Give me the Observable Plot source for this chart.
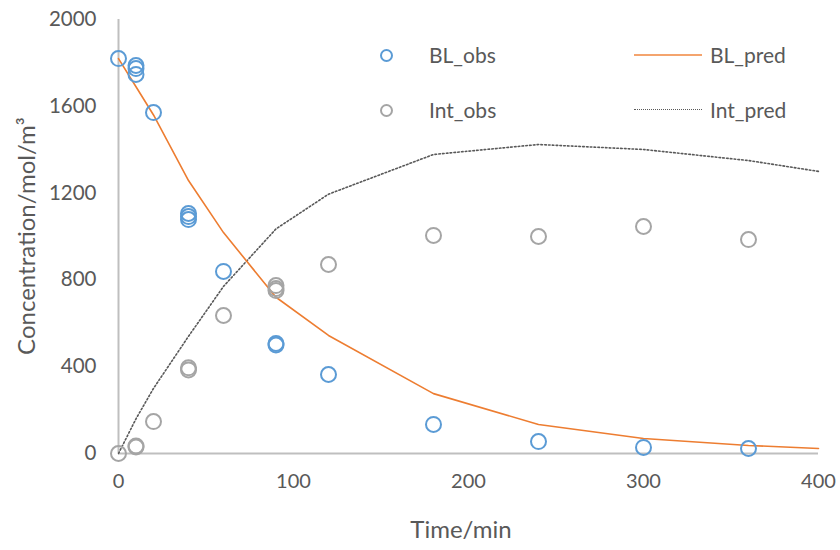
<!DOCTYPE html>
<html>
<head>
<meta charset="utf-8">
<script src="https://cdn.jsdelivr.net/npm/d3@7"></script>
<script src="https://cdn.jsdelivr.net/npm/@observablehq/plot@0.6"></script>
<style>
  html, body { margin: 0; padding: 0; background: #fff; }
  #wrap { position: relative; width: 840px; height: 550px; font-family: Lato, "Open Sans", sans-serif; }
  .leg { position: absolute; font-size: 21px; color: #595959; line-height: 1; white-space: nowrap; }
  .title { position: absolute; color: #595959; line-height: 1; white-space: nowrap; }
</style>
</head>
<body>
<div id="wrap"></div>
<script>
// Observed data
const blObsTime = [0, 10, 10, 10, 20, 40, 40, 40, 60, 90, 90, 120, 180, 240, 300, 360];
const blObsConc = [1820, 1788, 1774, 1747, 1571, 1106, 1092, 1078, 839, 507, 500, 364, 134, 55, 28, 23];
const intObsTime = [0, 10, 10, 20, 40, 40, 60, 90, 90, 90, 120, 180, 240, 300, 360];
const intObsConc = [0, 30, 35, 147, 385, 395, 636, 774, 760, 751, 871, 1005, 1000, 1046, 986];
// Predicted curves
const predTime = [0, 10, 20, 40, 60, 90, 120, 180, 240, 300, 360, 400];
const blPred = [1820, 1690, 1560, 1258, 1018, 720, 544, 276, 134, 69, 37, 23];
const intPred = [0, 160, 300, 540, 770, 1035, 1195, 1378, 1424, 1401, 1350, 1300];
// Axis ticks and texts
const xTicks = [0, 100, 200, 300, 400];
const yTicks = [0, 400, 800, 1200, 1600, 2000];
const seriesNames = ["BL_obs", "BL_pred", "Int_obs", "Int_pred"];
const xTitle = "Time/min";
const yTitle = "Concentration/mol/m³";

const blObs = blObsTime.map((t, i) => ({t, c: blObsConc[i]}));
const intObs = intObsTime.map((t, i) => ({t, c: intObsConc[i]}));
const blLine = predTime.map((t, i) => ({t, c: blPred[i]}));
const intLine = predTime.map((t, i) => ({t, c: intPred[i]}));

const chart = Plot.plot({
  width: 840,
  height: 550,
  marginLeft: 118,
  marginRight: 22,
  marginTop: 19,
  marginBottom: 97,
  style: {fontFamily: "Lato, 'Open Sans', sans-serif", fontSize: "20px", color: "#595959", background: "#fff"},
  x: {domain: [0, 400]},
  y: {domain: [0, 2000]},
  marks: [
    Plot.ruleX([0], {stroke: "#bfbfbf", strokeWidth: 2}),
    Plot.ruleY([0], {stroke: "#bfbfbf", strokeWidth: 2}),
    Plot.axisX({ticks: xTicks, tickSize: 0, tickPadding: 20, fontSize: 20, tickFormat: d => String(d), label: null}),
    Plot.axisY({ticks: yTicks, tickSize: 0, tickPadding: 22, fontSize: 20.5, tickFormat: d => String(d), label: null}),
    Plot.line(intLine, {x: "t", y: "c", stroke: "#595959", strokeWidth: 1.6, strokeDasharray: "1.6,2.2", curve: "linear"}),
    Plot.line(blLine, {x: "t", y: "c", stroke: "#ed7d31", strokeWidth: 1.6, curve: "linear"}),
    Plot.dot(intObs, {x: "t", y: "c", r: 7.5, stroke: "#a5a5a5", strokeWidth: 2, fill: "none"}),
    Plot.dot(blObs, {x: "t", y: "c", r: 7.5, stroke: "#5b9bd5", strokeWidth: 2, fill: "none"})
  ]
});
const wrap = document.getElementById("wrap");
wrap.appendChild(chart);

// Axis titles
const xt = document.createElement("div");
xt.className = "title";
xt.textContent = xTitle;
xt.style.fontSize = "24px";
xt.style.left = "461px"; xt.style.top = "529px";
xt.style.transform = "translate(-50%, -50%)";
wrap.appendChild(xt);
const yt = document.createElement("div");
yt.className = "title";
yt.textContent = yTitle;
yt.style.fontSize = "24px";
yt.style.left = "26px"; yt.style.top = "236px";
yt.style.transform = "translate(-50%, -50%) rotate(-90deg)";
wrap.appendChild(yt);

// Legend overlay
function legItem(kind, color, label, x, y) {
  const sym = document.createElement("div");
  sym.style.position = "absolute";
  if (kind === "circle") {
    sym.style.left = (x - 6) + "px"; sym.style.top = (y - 6) + "px";
    sym.style.width = "9px"; sym.style.height = "9px";
    sym.style.border = "2px solid " + color; sym.style.borderRadius = "50%";
  } else {
    sym.style.left = x + "px"; sym.style.top = (y - 1) + "px";
    sym.style.width = "68px"; sym.style.height = "0";
    sym.style.borderTop = (kind === "dotted" ? "1.5px dotted " : "2px solid ") + color;
  }
  wrap.appendChild(sym);
  const t = document.createElement("div");
  t.className = "leg";
  t.textContent = label;
  t.style.left = (kind === "circle" ? x + 43 : x + 76) + "px";
  t.style.top = (y - 11) + "px";
  wrap.appendChild(t);
}
legItem("circle", "#5b9bd5", seriesNames[0], 386, 55);
legItem("line", "#f4a46e", seriesNames[1], 634, 55);
legItem("circle", "#a5a5a5", seriesNames[2], 386, 110);
legItem("dotted", "#595959", seriesNames[3], 634, 110);
</script>
</body>
</html>
